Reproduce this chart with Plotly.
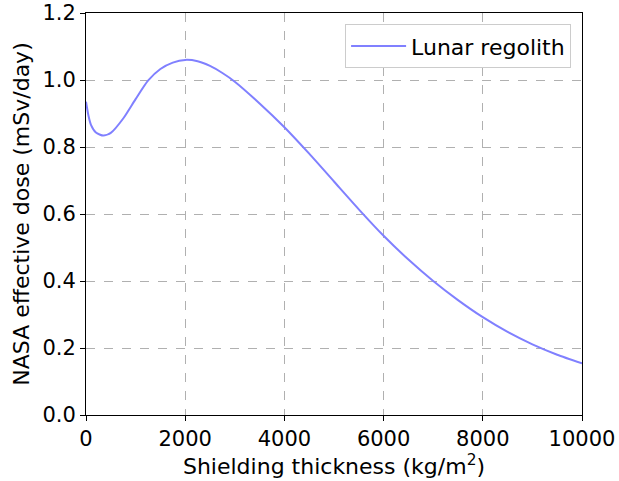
import plotly.graph_objects as go

thickness = [0, 50, 100, 200, 350, 500, 750, 1000, 1250, 1500, 1750, 2000, 2250, 2500,
             2750, 3000, 3500, 4000, 4500, 5000, 5500, 6000, 6500, 7000, 7500, 8000,
             8500, 9000, 9500, 10000]
dose = [0.935, 0.893, 0.866, 0.843, 0.834, 0.842, 0.885, 0.943, 0.998, 1.033, 1.052,
        1.060, 1.056, 1.042, 1.021, 0.995, 0.930, 0.859, 0.780, 0.697, 0.614, 0.535,
        0.464, 0.400, 0.343, 0.292, 0.248, 0.211, 0.180, 0.154]
x_ticks = [0, 2000, 4000, 6000, 8000, 10000]
y_ticks = [0.0, 0.2, 0.4, 0.6, 0.8, 1.0, 1.2]

fig = go.Figure()
fig.add_trace(go.Scatter(x=thickness, y=dose, mode="lines", name="Lunar regolith",
                         line=dict(color="#8080ff", width=2, shape="spline", smoothing=0.6)))

axis_common = dict(showline=True, linecolor="black", linewidth=1, mirror=True,
                   ticks="outside", ticklen=5, tickcolor="black", automargin=False,
                   showgrid=True, gridcolor="#b0b0b0", griddash="dash", gridwidth=1,
                   zeroline=False, tickfont=dict(size=21, color="black"))
fig.update_xaxes(range=[0, 10000], tickvals=x_ticks, ticktext=[str(v) for v in x_ticks],
                 title=dict(text="Shielding thickness (kg/m<sup>2</sup>)", font=dict(size=22, color="black"), standoff=2),
                 **axis_common)
fig.update_yaxes(range=[0, 1.2], tickvals=y_ticks, ticktext=[f"{v:.1f}" for v in y_ticks],
                 title=dict(text="NASA effective dose (mSv/day)", font=dict(size=22, color="black"), standoff=6),
                 **axis_common)
fig.update_layout(width=619, height=481, margin=dict(l=86, r=37, t=13, b=66),
                  plot_bgcolor="white", paper_bgcolor="white",
                  font=dict(family="DejaVu Sans", color="black"),
                  showlegend=True,
                  legend=dict(x=0.978, y=0.972, xanchor="right", yanchor="top",
                              itemwidth=55,
                              bordercolor="#cccccc", borderwidth=1, bgcolor="white",
                              font=dict(size=22, color="black")))
fig.write_html("out.html")
